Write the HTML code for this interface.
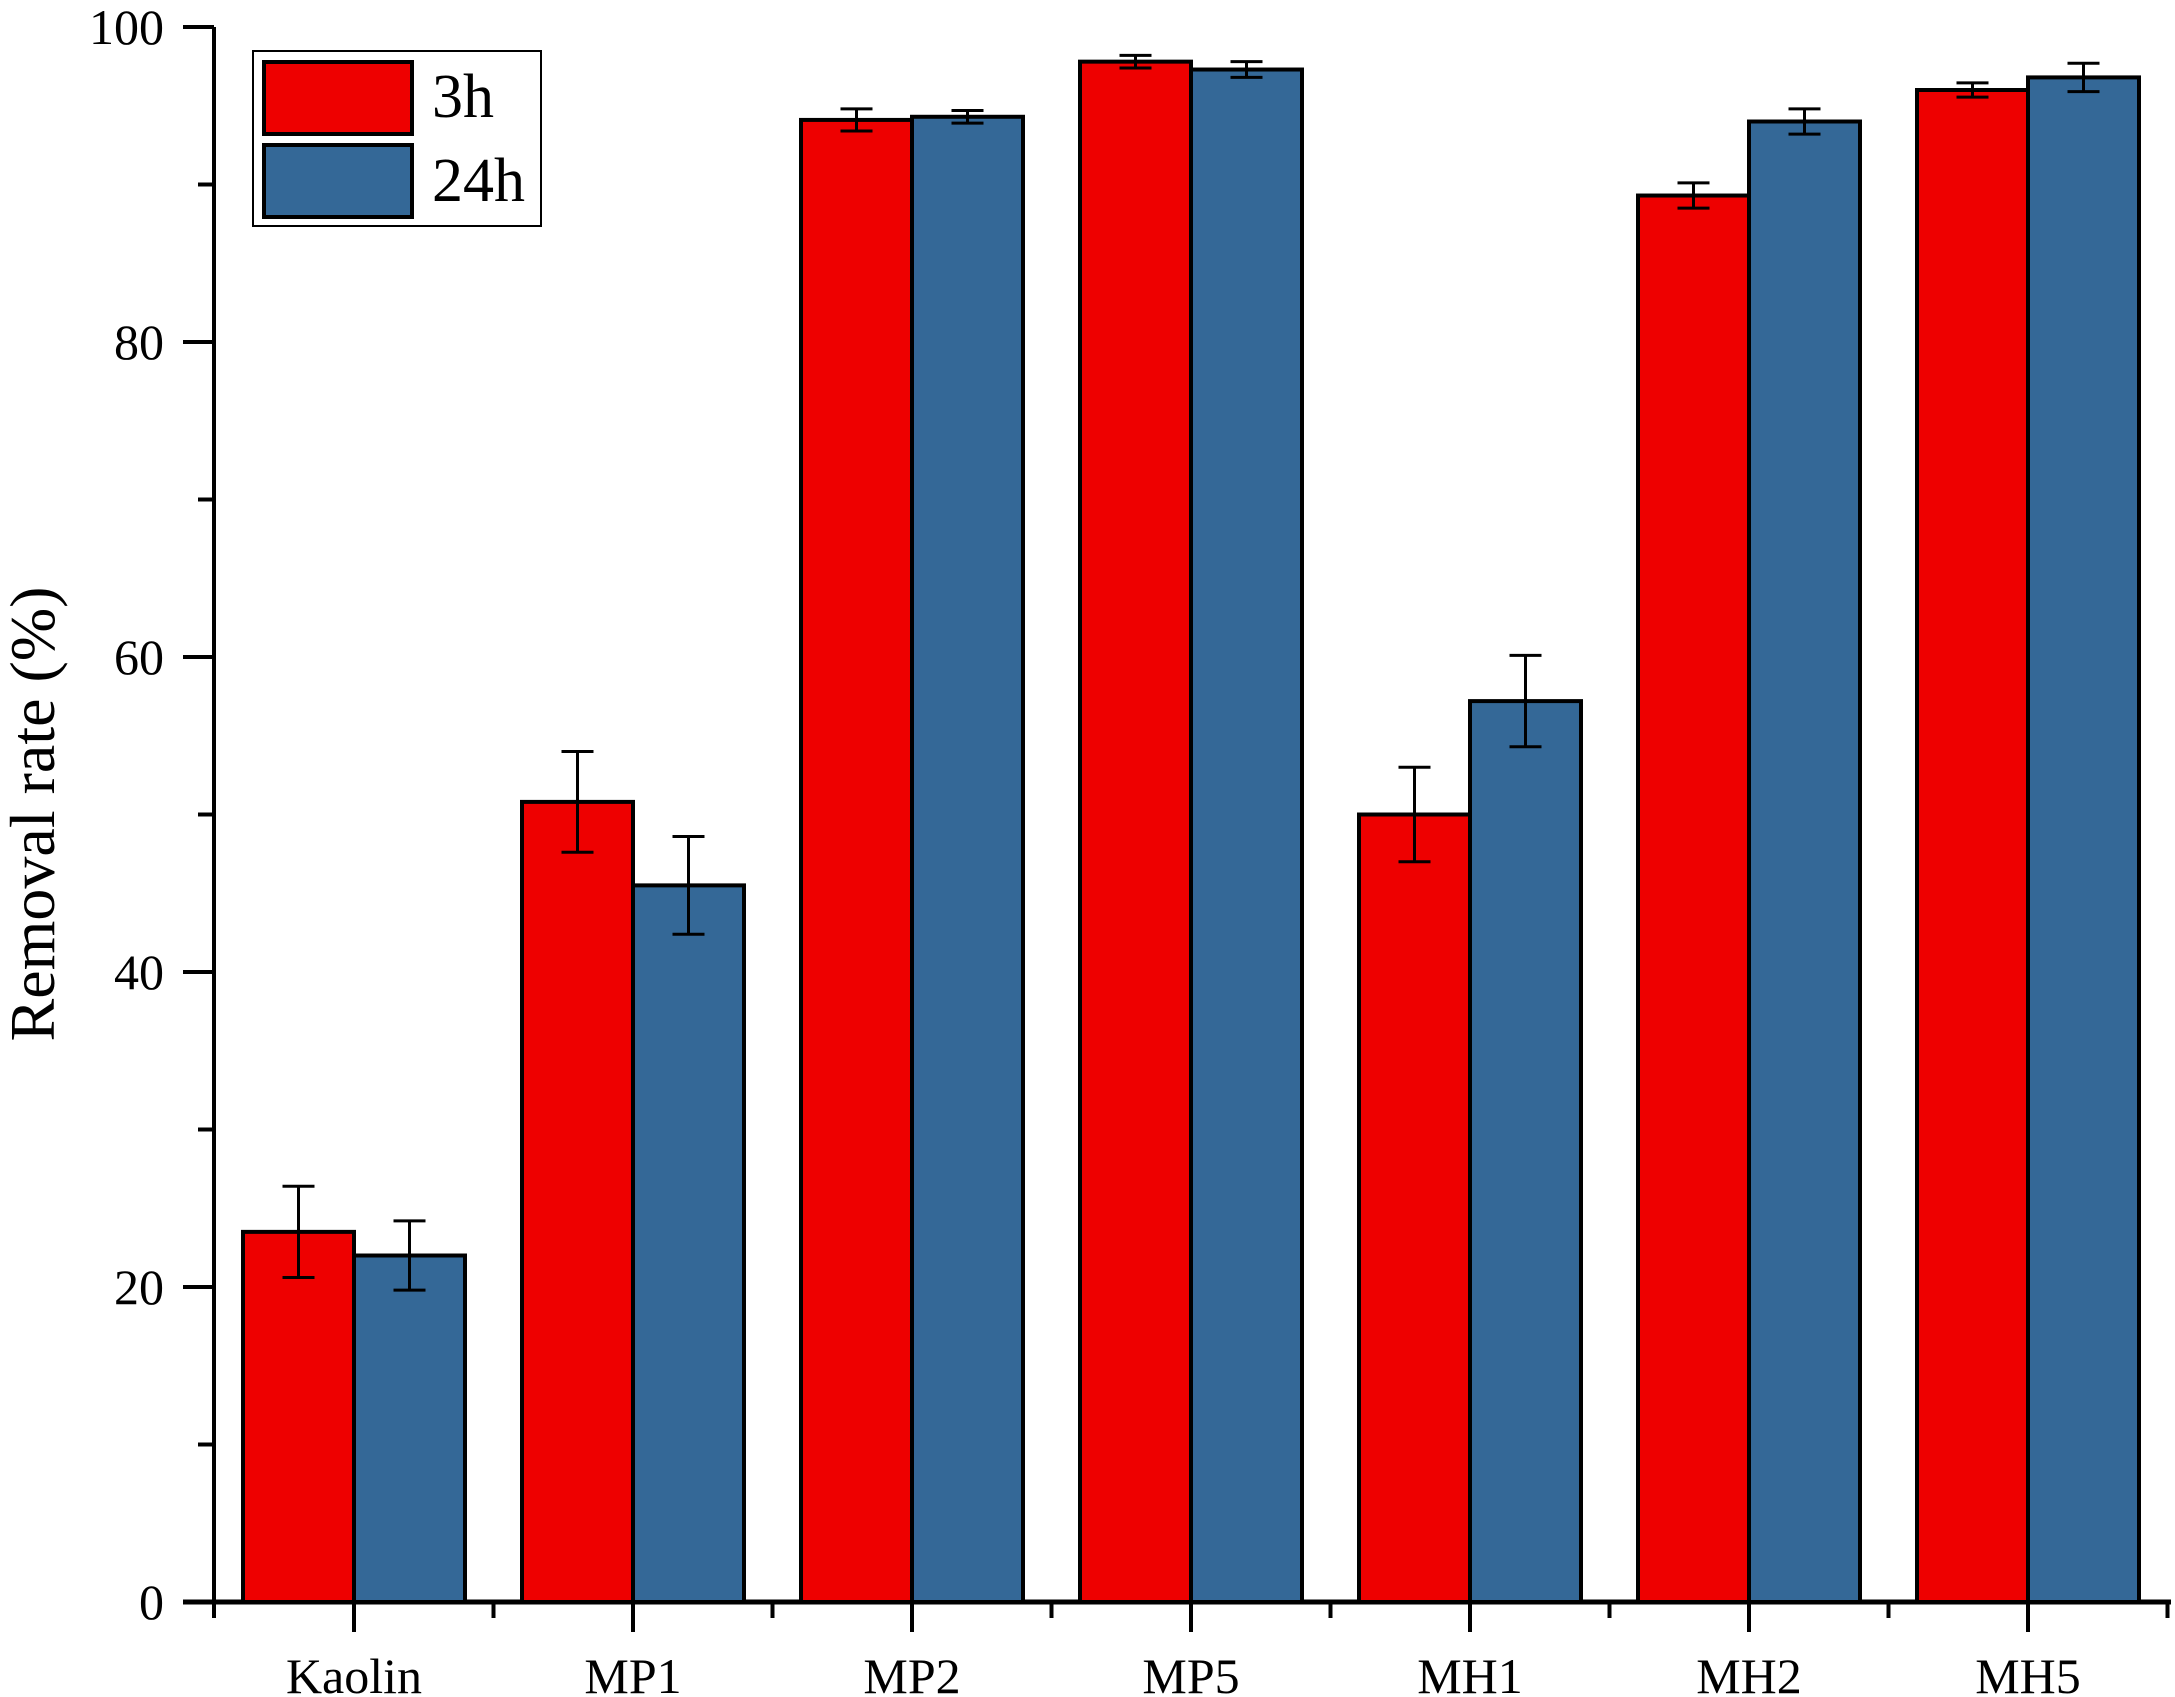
<!DOCTYPE html>
<html><head><meta charset="utf-8"><style>
html,body{margin:0;padding:0;background:#fff;}
svg{display:block;font-family:"Liberation Serif","Times New Roman",serif;}
</style></head><body>
<svg id="chart" width="2175" height="1697" viewBox="0 0 2175 1697" xmlns="http://www.w3.org/2000/svg">
<g id="axes"></g>
<g id="bars"></g>
<text transform="translate(54,814) rotate(-90)" text-anchor="middle" font-size="64">Removal rate (%)</text>
<g>
<rect x="253" y="51" width="288" height="175" fill="#fff" stroke="#000" stroke-width="2"/>
<rect x="264" y="62" width="148" height="72" fill="#ee0000" stroke="#000" stroke-width="4"/>
<text x="432" y="117" font-size="62">3h</text>
<rect x="264" y="145" width="148" height="72" fill="#346897" stroke="#000" stroke-width="4"/>
<text x="432" y="201" font-size="62">24h</text>
</g>
</svg>
<script>
const categories=["Kaolin","MP1","MP2","MP5","MH1","MH2","MH5"];
const series3h=[23.5,50.8,94.1,97.8,50.0,89.3,96.0];
const err3h=[2.9,3.2,0.7,0.4,3.0,0.8,0.45];
const series24h=[22.0,45.5,94.3,97.3,57.2,94.0,96.8];
const err24h=[2.2,3.1,0.4,0.5,2.9,0.8,0.9];
const yTicks=[0,20,40,60,80,100];
const yMinor=[10,30,50,70,90];

const NS="http://www.w3.org/2000/svg";
const x0=214,y0=1602,yTop=27,xEnd=2171;
const step=279,firstX=354,barW=111;
function Y(v){return y0-(v/100)*(y0-yTop);}
function X(i){return firstX+i*step;}
function mk(tag,attrs,parent){const e=document.createElementNS(NS,tag);for(const k in attrs)e.setAttribute(k,attrs[k]);parent.appendChild(e);return e;}
const axes=document.getElementById('axes'),bars=document.getElementById('bars');

function drawBar(i,v,e,col,left,name){
  const r=mk('rect',{x:left,y:Y(v),width:barW,height:y0-Y(v),fill:col,stroke:'#000','stroke-width':4},bars);
  
  
  const cx=left+barW/2;
  const g=mk('g',{stroke:'#000','stroke-width':3},bars);
  
  
  mk('line',{x1:cx,x2:cx,y1:Y(v+e),y2:Y(v-e)},g);
  mk('line',{x1:cx-16,x2:cx+16,y1:Y(v+e),y2:Y(v+e)},g);
  mk('line',{x1:cx-16,x2:cx+16,y1:Y(v-e),y2:Y(v-e)},g);
}
categories.forEach((c,i)=>{
  drawBar(i,series3h[i],err3h[i],'#ee0000',X(i)-barW,'bar-3h');
  drawBar(i,series24h[i],err24h[i],'#346897',X(i),'bar-24h');
});

const ya=mk('line',{x1:x0,x2:x0,y1:yTop,y2:y0+2,stroke:'#000','stroke-width':4},axes);


const xa=mk('line',{x1:x0-31,x2:xEnd,y1:y0,y2:y0,stroke:'#000','stroke-width':5},axes);


yTicks.forEach(t=>{
  mk('line',{x1:x0-31,x2:x0,y1:Y(t),y2:Y(t),stroke:'#000','stroke-width':4},axes);
  const tx=mk('text',{x:x0-50,y:Y(t)+17,'text-anchor':'end','font-size':50},axes);
  tx.textContent=t;
  
  
});
yMinor.forEach(t=>{mk('line',{x1:x0-16,x2:x0,y1:Y(t),y2:Y(t),stroke:'#000','stroke-width':4},axes);});
mk('line',{x1:x0,x2:x0,y1:y0,y2:y0+16,stroke:'#000','stroke-width':4},axes);
categories.forEach((c,i)=>{
  mk('line',{x1:X(i),x2:X(i),y1:y0,y2:y0+30,stroke:'#000','stroke-width':4},axes);
  mk('line',{x1:X(i)+step/2,x2:X(i)+step/2,y1:y0,y2:y0+16,stroke:'#000','stroke-width':4},axes);
  const tx=mk('text',{x:X(i),y:1693,'text-anchor':'middle','font-size':50},axes);
  tx.textContent=c;
  
  
});
</script>
</body></html>
